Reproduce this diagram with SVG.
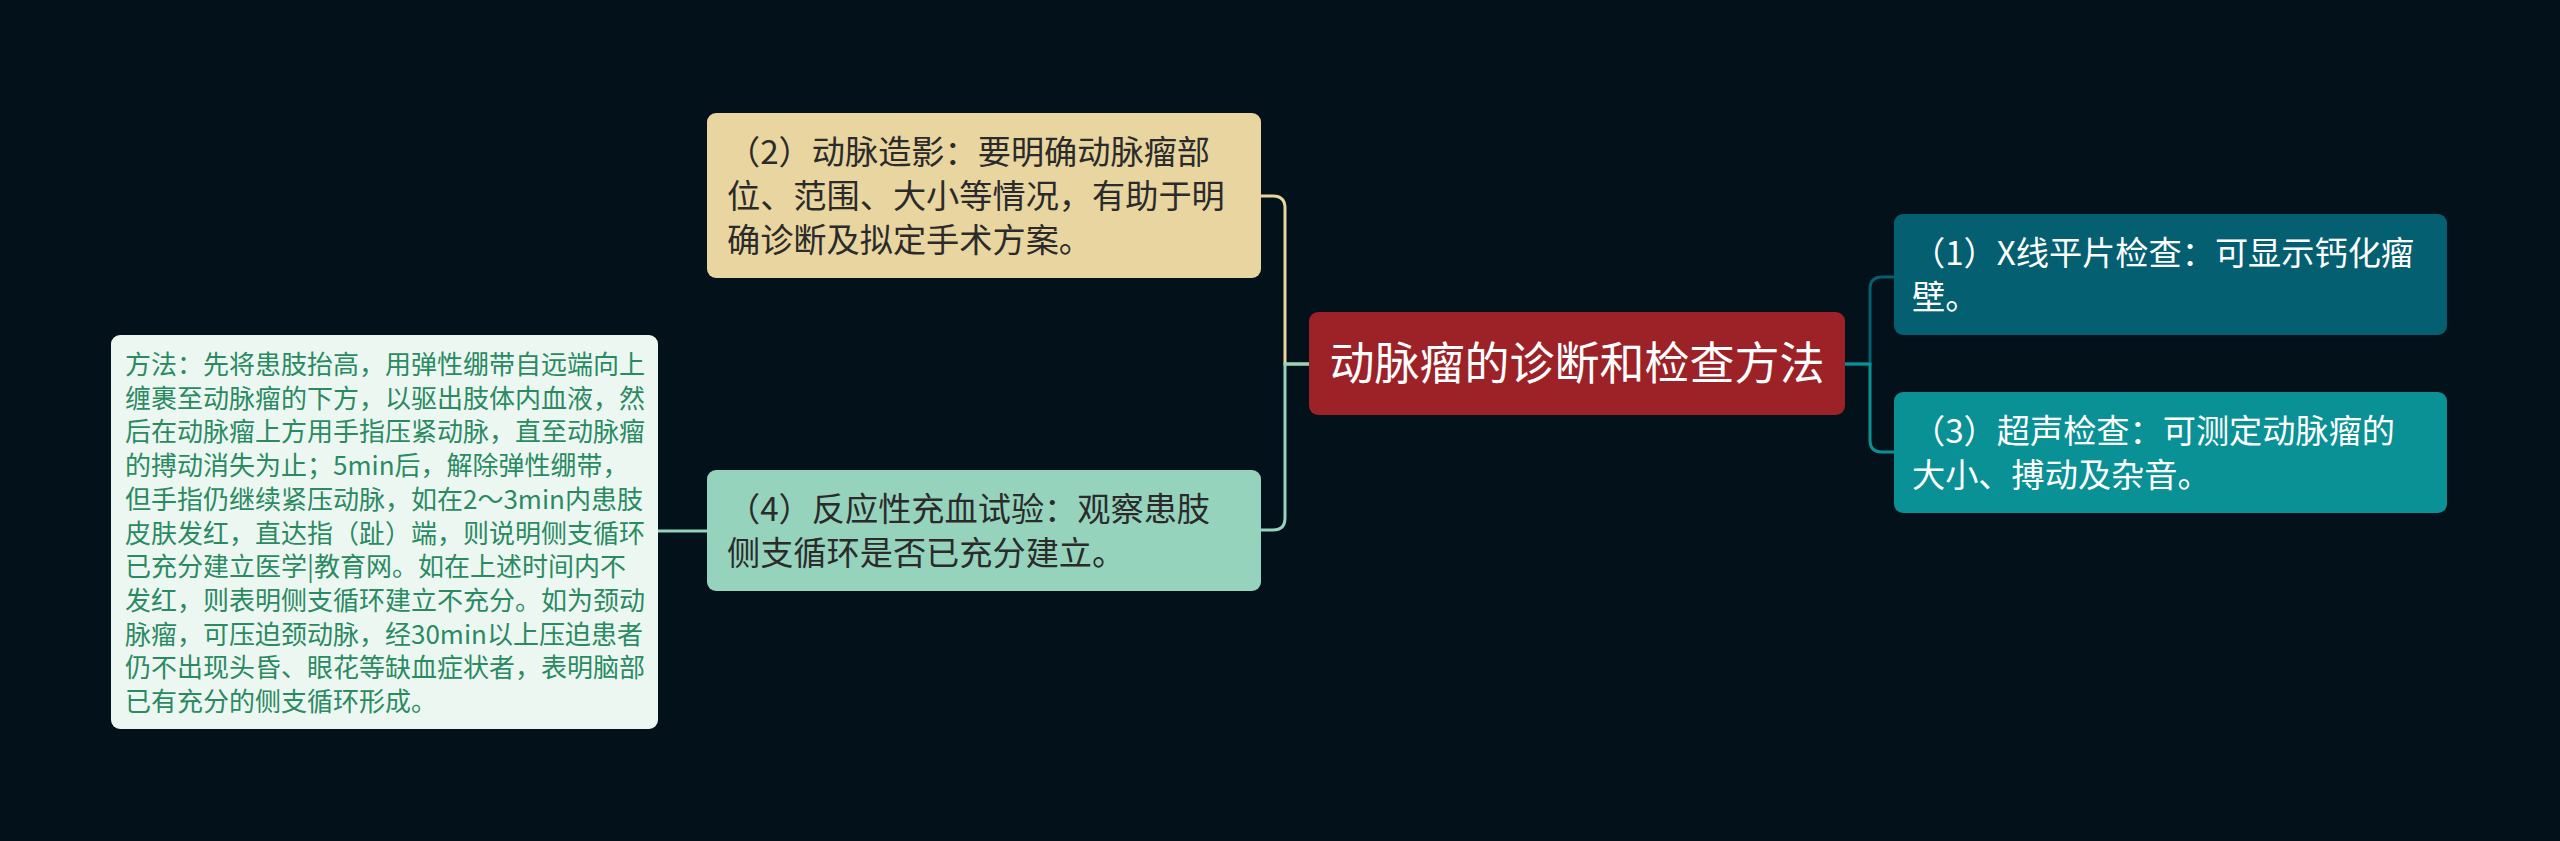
<svg xmlns="http://www.w3.org/2000/svg" width="2560" height="841" viewBox="0 0 2560 841">
<style>
text{font-family:"Noto Sans CJK SC","Noto Sans",sans-serif}
.t{font-size:33.2px}
.dk{fill:#2b2b2b}
.wh{fill:#ffffff}
.det{font-size:26px;fill:#2a8a62}
.c{fill:none;stroke-width:3;stroke-linecap:round}
</style>
<rect x="0" y="0" width="2560" height="841" fill="#03111a"/>
<g id="connectors">
<path class="c" stroke="#e8d59f" d="M1309,364 H1285 V208 Q1285,196 1273,196 H1261"/>
<path class="c" stroke="#95d3bd" d="M1309,364 H1285 V518 Q1285,530 1273,530 H1261"/>
<path class="c" stroke="#95d3bd" d="M707,531 H658"/>
<path class="c" stroke="#045f70" d="M1845,364 H1870 V289 Q1870,277 1882,277 H1894"/>
<path class="c" stroke="#0a9196" d="M1845,364 H1870 V440 Q1870,452 1882,452 H1894"/>
</g>
<g id="root">
<rect x="1309" y="312" width="536" height="103" rx="9" fill="#9c2228"/>
<text x="1577" y="380" font-size="45" class="wh" text-anchor="middle">动脉瘤的诊断和检查方法</text>
</g>
<g id="node2">
<rect x="707" y="113" width="554" height="165" rx="9" fill="#e8d59f"/>
<text class="t dk"><tspan x="727" y="164">（2）动脉造影：要明确动脉瘤部</tspan><tspan x="727" y="208">位、范围、大小等情况，有助于明</tspan><tspan x="727" y="252">确诊断及拟定手术方案。</tspan></text>
</g>
<g id="node4">
<rect x="707" y="470" width="554" height="121" rx="9" fill="#95d3bd"/>
<text class="t dk"><tspan x="727" y="521">（4）反应性充血试验：观察患肢</tspan><tspan x="727" y="565">侧支循环是否已充分建立。</tspan></text>
</g>
<g id="node1">
<rect x="1894" y="214" width="553" height="121" rx="9" fill="#045f70"/>
<text class="t wh"><tspan x="1912" y="265">（1）X线平片检查：可显示钙化瘤</tspan><tspan x="1912" y="309">壁。</tspan></text>
</g>
<g id="node3">
<rect x="1894" y="392" width="553" height="121" rx="9" fill="#0a9196"/>
<text class="t wh"><tspan x="1912" y="443">（3）超声检查：可测定动脉瘤的</tspan><tspan x="1912" y="487">大小、搏动及杂音。</tspan></text>
</g>
<g id="detail">
<rect x="111" y="335" width="547" height="394" rx="9" fill="#edf7f2"/>
<text class="det"><tspan x="125" y="374">方法：先将患肢抬高，用弹性绷带自远端向上</tspan><tspan x="125" y="407.7">缠裹至动脉瘤的下方，以驱出肢体内血液，然</tspan><tspan x="125" y="441.4">后在动脉瘤上方用手指压紧动脉，直至动脉瘤</tspan><tspan x="125" y="475.1">的搏动消失为止；5min后，解除弹性绷带，</tspan><tspan x="125" y="508.8">但手指仍继续紧压动脉，如在2～3min内患肢</tspan><tspan x="125" y="542.5">皮肤发红，直达指（趾）端，则说明侧支循环</tspan><tspan x="125" y="576.2">已充分建立医学|教育网。如在上述时间内不</tspan><tspan x="125" y="609.9">发红，则表明侧支循环建立不充分。如为颈动</tspan><tspan x="125" y="643.6">脉瘤，可压迫颈动脉，经30min以上压迫患者</tspan><tspan x="125" y="677.3">仍不出现头昏、眼花等缺血症状者，表明脑部</tspan><tspan x="125" y="711">已有充分的侧支循环形成。</tspan></text>
</g>
</svg>
